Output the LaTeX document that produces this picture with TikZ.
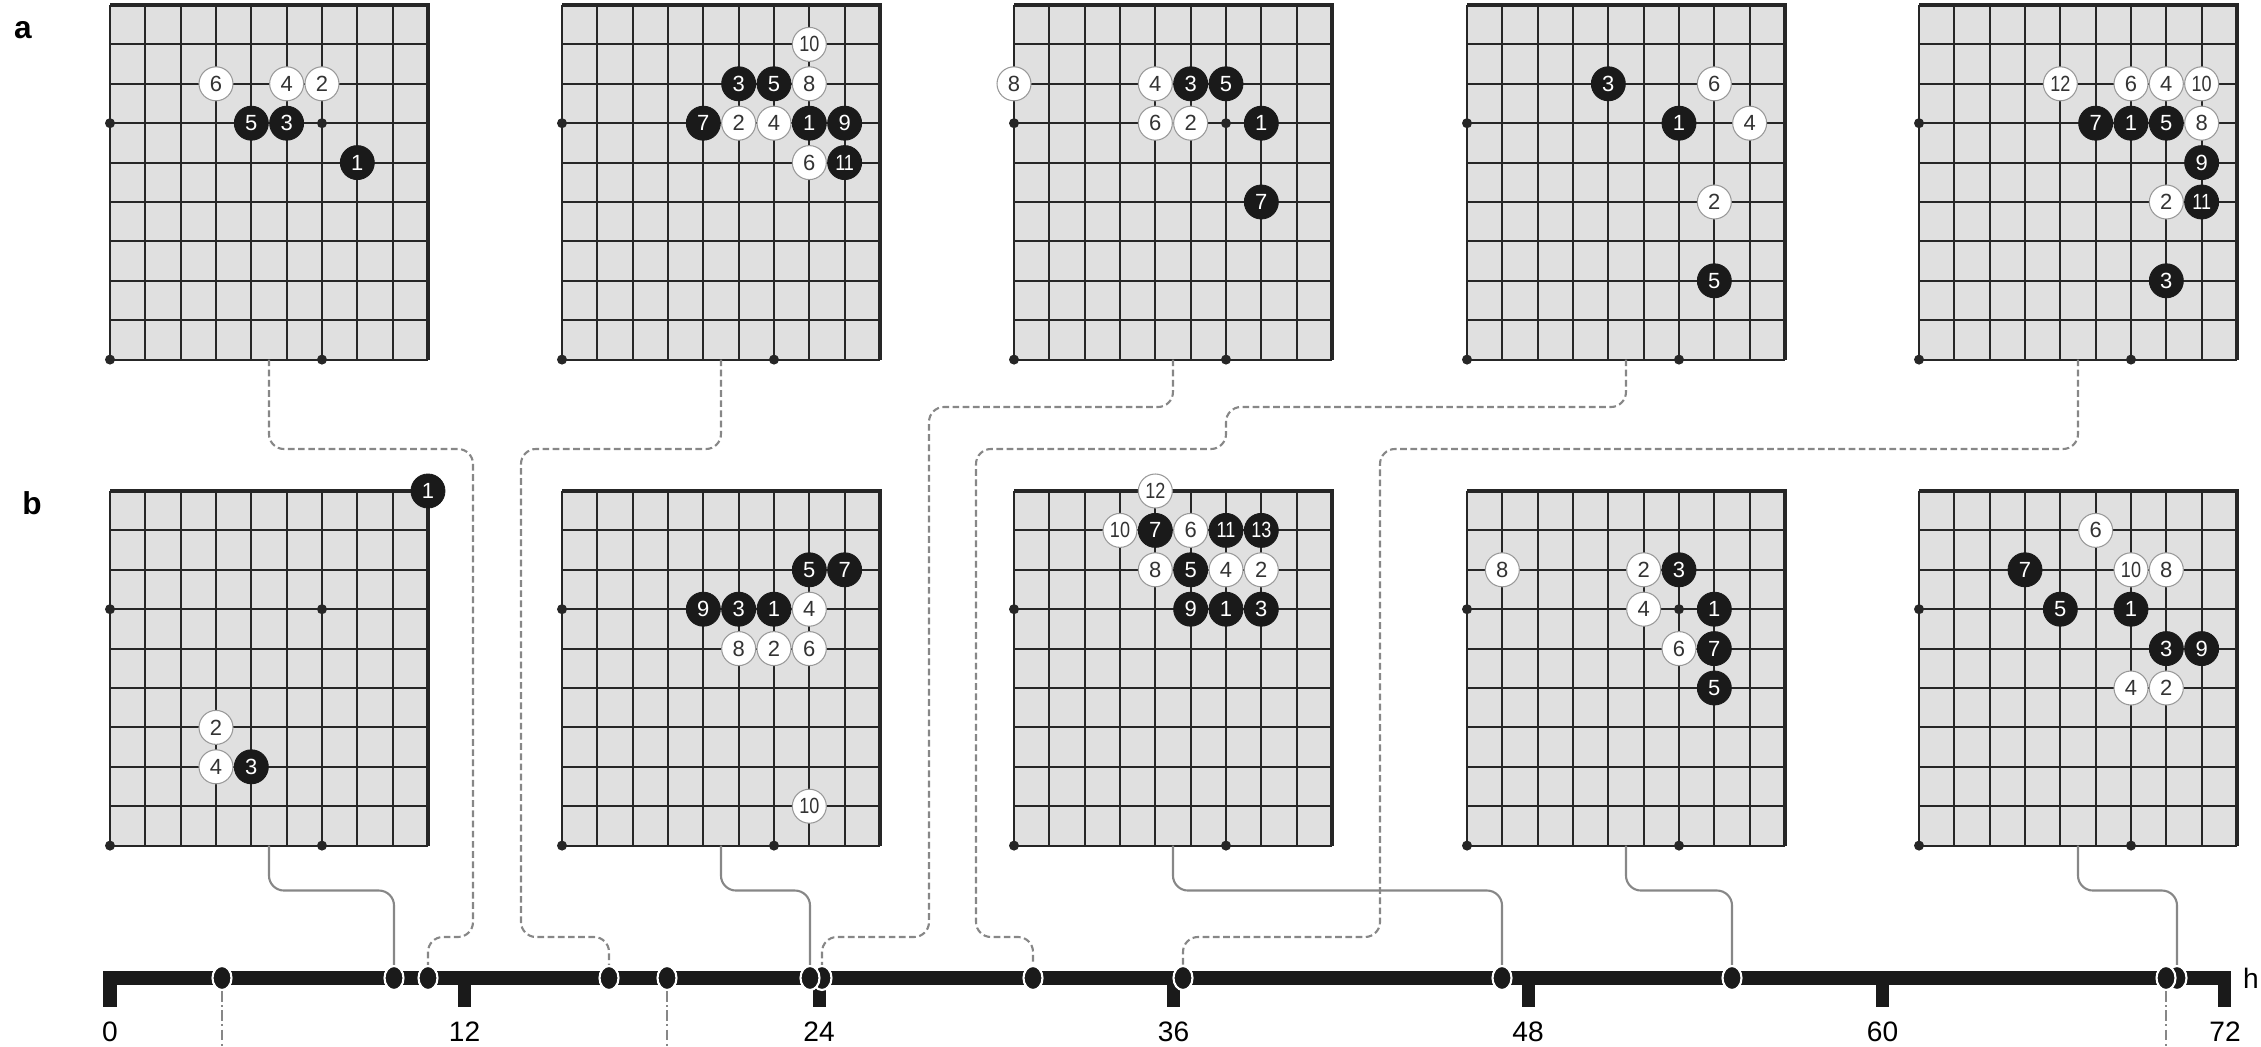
\documentclass[tikz,border=0pt]{standalone}
\usepackage{fontspec}
\setmainfont{Liberation Sans}
\usetikzlibrary{shapes.geometric,calc}
\definecolor{boardgray}{HTML}{E0E0E0}
\definecolor{gridcol}{HTML}{262626}
\definecolor{stoneblk}{HTML}{1A1A1A}
\definecolor{linkgray}{HTML}{878787}
\tikzset{
  boardbg/.style={rectangle, fill=boardgray, minimum width=6.36cm, minimum height=7.092cm,
                  inner sep=0pt, outer sep=0pt},
  gridline/.style={draw=gridcol, line width=1.1pt},
  edgeline/.style={draw=gridcol, line width=2.4pt},
  bstone/.style={circle, fill=stoneblk, draw=stoneblk, line width=0.5pt, minimum size=0.68cm,
                 inner sep=0pt, text=white, font=\fontsize{12.5}{12.5}\selectfont},
  wstone/.style={circle, fill=white, draw=gray!80, line width=0.6pt, minimum size=0.68cm,
                 inner sep=0pt, text=black!80, font=\fontsize{12.5}{12.5}\selectfont},
  hitdot/.style={ellipse, fill=stoneblk, draw=white, line width=1.2pt, minimum width=0.38cm,
                 minimum height=0.48cm, inner sep=0pt},
  dashlink/.style={draw=linkgray, line width=1.2pt, dash pattern=on 3.8pt off 2pt, rounded corners=0.3cm},
  solidlink/.style={draw=linkgray, line width=1.2pt, rounded corners=0.3cm},
  dotlink/.style={draw=linkgray, line width=0.9pt, dash pattern=on 6pt off 2pt on 1pt off 2pt},
  tlabel/.style={font=\fontsize{16}{16}\selectfont, inner sep=0pt},
  panel/.style={font=\bfseries\fontsize{18}{18}\selectfont, inner sep=0pt}
}
\newcommand{\stonenum}[1]{\ifnum#1>9 \scalebox{0.82}[1]{#1}\else #1\fi}
\newcommand{\goboard}[3]{%
  \node[boardbg, anchor=north west] (#1) at (#2,#3) {};
  \foreach \k in {0,...,9} {
    \draw[gridline] ($(#1.north west)+(\k*35.33,0)$) -- ++(0,354.6);
    \draw[gridline] ($(#1.north west)+(0,\k*39.4)$) -- ++(318,0);
  }
  \draw[edgeline] (#1.north west) -- (#1.north east) -- (#1.south east);
  \foreach \c/\r in {0/3,6/3,0/9,6/9}
    \fill[gridcol] ($(#1.north west)+(\c*35.33,\r*39.4)$) circle (0.1cm);
}
\newcommand{\stones}[3]{%
  \foreach \c/\r/\n in {#2}
    \node[bstone] (#1b\n) at ($(#1.north west)+(\c*35.33,\r*39.4)$) {\stonenum{\n}};
  \foreach \c/\r/\n in {#3}
    \node[wstone] (#1w\n) at ($(#1.north west)+(\c*35.33,\r*39.4)$) {\stonenum{\n}};
}

\begin{document}
\begin{tikzpicture}[x=0.02cm, y=-0.02cm]
  \useasboundingbox (0,0) rectangle (2261,1047);
  \node[panel] (pa) at (23,30) {a};
  \node[panel] (pb) at (32,503) {b};

  \goboard{a1}{110}{5}
  \goboard{a2}{562}{5}
  \goboard{a3}{1014}{5}
  \goboard{a4}{1467}{5}
  \goboard{a5}{1919}{5}
  \goboard{b1}{110}{491}
  \goboard{b2}{562}{491}
  \goboard{b3}{1014}{491}
  \goboard{b4}{1467}{491}
  \goboard{b5}{1919}{491}

  \stones{a1}{7/4/1, 5/3/3, 4/3/5}{6/2/2, 5/2/4, 3/2/6}
  \stones{a2}{7/3/1, 5/2/3, 6/2/5, 4/3/7, 8/3/9, 8/4/11}{5/3/2, 6/3/4, 7/4/6, 7/2/8, 7/1/10}
  \stones{a3}{7/3/1, 5/2/3, 6/2/5, 7/5/7}{5/3/2, 4/2/4, 4/3/6, 0/2/8}
  \stones{a4}{6/3/1, 4/2/3, 7/7/5}{7/5/2, 8/3/4, 7/2/6}
  \stones{a5}{6/3/1, 7/7/3, 7/3/5, 5/3/7, 8/4/9, 8/5/11}{7/5/2, 7/2/4, 6/2/6, 8/3/8, 8/2/10, 4/2/12}
  \stones{b1}{9/0/1, 4/7/3}{3/6/2, 3/7/4}
  \stones{b2}{6/3/1, 5/3/3, 7/2/5, 8/2/7, 4/3/9}{6/4/2, 7/3/4, 7/4/6, 5/4/8, 7/8/10}
  \stones{b3}{6/3/1, 7/3/3, 5/2/5, 4/1/7, 5/3/9, 6/1/11, 7/1/13}{7/2/2, 6/2/4, 5/1/6, 4/2/8, 3/1/10, 4/0/12}
  \stones{b4}{7/3/1, 6/2/3, 7/5/5, 7/4/7}{5/2/2, 5/3/4, 6/4/6, 1/2/8}
  \stones{b5}{6/3/1, 7/4/3, 4/3/5, 3/2/7, 8/4/9}{7/5/2, 6/5/4, 5/1/6, 7/2/8, 6/2/10}

  \fill[stoneblk] (103,971) rectangle (2231,985);
  \fill[stoneblk] (103,985) rectangle (117,1007);
  \foreach \t in {464.5,819,1173.5,1528,1882.5}
    \fill[stoneblk] (\t-6.5,985) rectangle (\t+6.5,1007);
  \fill[stoneblk] (2218,985) rectangle (2231,1007);
  \node[tlabel] (t0) at (110,1032) {0};
  \node[tlabel] (t12) at (464.5,1032) {12};
  \node[tlabel] (t24) at (819,1032) {24};
  \node[tlabel] (t36) at (1173.5,1032) {36};
  \node[tlabel] (t48) at (1528,1032) {48};
  \node[tlabel] (t60) at (1882.5,1032) {60};
  \node[tlabel] (t72) at (2225,1032) {72};
  \node[tlabel] (th) at (2251,978) {h};

  \node[hitdot] (m1) at (222,978) {};
  \node[hitdot] (m2) at (394,978) {};
  \node[hitdot] (m3) at (428,978) {};
  \node[hitdot] (m4) at (609,978) {};
  \node[hitdot] (m5) at (667,978) {};
  \node[hitdot] (m7) at (822,978) {};
  \node[hitdot] (m6) at (810,978) {};
  \node[hitdot] (m8) at (1033,978) {};
  \node[hitdot] (m9) at (1183,978) {};
  \node[hitdot] (m10) at (1502,978) {};
  \node[hitdot] (m11) at (1732,978) {};
  \node[hitdot] (m13) at (2177,978) {};
  \node[hitdot] (m12) at (2166,978) {};

  \draw[dashlink] (a1.south) |- (473,449) -- (473,937) -| (m3.north);
  \draw[dashlink] (a2.south) |- (521,449) -- (521,937) -| (m4.north);
  \draw[dashlink] (a3.south) |- (929,407) -- (929,937) -| (m7.north);
  \draw[dashlink] (a4.south) |- (1226,407) |- (976,449) -- (976,937) -| (m8.north);
  \draw[dashlink] (a5.south) |- (1380,449) -- (1380,937) -| (m9.north);

  \draw[solidlink] (b1.south) -- ++(0,45) -| (m2.north);
  \draw[solidlink] (b2.south) -- ++(0,45) -| (m6.north);
  \draw[solidlink] (b3.south) -- ++(0,45) -| (m10.north);
  \draw[solidlink] (b4.south) -- ++(0,45) -| (m11.north);
  \draw[solidlink] (b5.south) -- ++(0,45) -| (m13.north);

  \draw[dotlink] (m1.south) -- ++(0,60);
  \draw[dotlink] (m5.south) -- ++(0,60);
  \draw[dotlink] (m12.south) -- ++(0,60);
\end{tikzpicture}
\end{document}
